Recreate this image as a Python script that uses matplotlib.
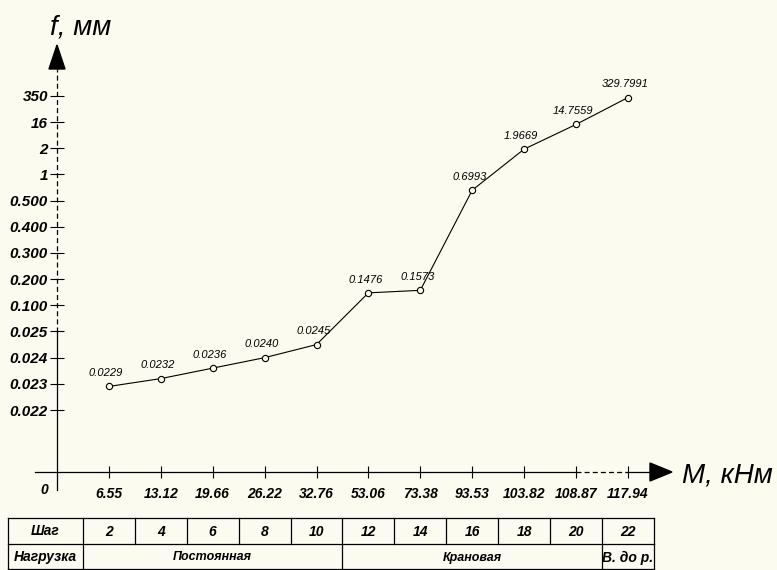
import matplotlib
matplotlib.use('Agg')
import matplotlib.pyplot as plt
import numpy as np

# ---------------------------------------------------------------
# Прогиб f от момента M по шагам нагружения
# ---------------------------------------------------------------
M_TICKS = [0, 6.55, 13.12, 19.66, 26.22, 32.76, 53.06, 73.38, 93.53, 103.82, 108.87, 117.94]
M_TICK_LABELS = ['6.55', '13.12', '19.66', '26.22', '32.76', '53.06',
                 '73.38', '93.53', '103.82', '108.87', '117.94']

F_TICKS = [0.022, 0.023, 0.024, 0.025, 0.100, 0.200, 0.300, 0.400, 0.500, 1, 2, 16, 350]
F_TICK_LABELS = ['0.022', '0.023', '0.024', '0.025', '0.100', '0.200', '0.300',
                 '0.400', '0.500', '1', '2', '16', '350']

M_VALUES = [6.55, 13.12, 19.66, 26.22, 32.76, 53.06, 73.38, 93.53, 103.82, 108.87, 117.94]
F_VALUES = [0.0229, 0.0232, 0.0236, 0.0240, 0.0245, 0.1476, 0.1573, 0.6993,
            1.9669, 14.7559, 329.7991]

STEPS = [2, 4, 6, 8, 10, 12, 14, 16, 18, 20, 22]
LOAD_NAMES = ['Постоянная', 'Крановая', 'В. до р.']
LOAD_SPANS = [5, 5, 1]

# ---------------------------------------------------------------
# разметка листа (пиксели)
# ---------------------------------------------------------------
W, H, DPI = 777, 570, 100
BG = '#FCFBF0'
ORIGIN_X = 57.0       # вертикальная ось
X_STEP = 51.9         # шаг между делениями по M
Y0_PX = 410.0         # уровень деления 0.022
Y_STEP = 26.17        # шаг между делениями по f
X_AXIS_PX = 472.0     # горизонтальная ось

plt.rcParams['font.family'] = ['Liberation Sans', 'DejaVu Sans']


def piecewise(xp, fp):
    """Кусочно-линейное отображение с продолжением по крайним отрезкам."""
    xp = np.asarray(xp, float)
    fp = np.asarray(fp, float)
    k_lo = (fp[1] - fp[0]) / (xp[1] - xp[0])
    k_hi = (fp[-1] - fp[-2]) / (xp[-1] - xp[-2])

    def f(v):
        v = np.asarray(v, float)
        out = np.interp(v, xp, fp)
        out = np.where(v < xp[0], fp[0] + (v - xp[0]) * k_lo, out)
        out = np.where(v > xp[-1], fp[-1] + (v - xp[-1]) * k_hi, out)
        return out
    return f


x_idx = np.arange(len(M_TICKS), dtype=float)
y_idx = np.arange(len(F_TICKS), dtype=float)
fx, fx_inv = piecewise(M_TICKS, x_idx), piecewise(x_idx, M_TICKS)
fy, fy_inv = piecewise(F_TICKS, y_idx), piecewise(y_idx, F_TICKS)


def px_x(i):
    return ORIGIN_X + X_STEP * i


fig = plt.figure(figsize=(W / DPI, H / DPI), dpi=DPI, facecolor=BG)

# --- основное поле графика -------------------------------------
ax = fig.add_axes([0, 0, 1, 1])
ax.set_facecolor('none')
ax.set_xscale('function', functions=(fx, fx_inv))
ax.set_yscale('function', functions=(fy, fy_inv))
ax.set_xlim(float(fx_inv(-ORIGIN_X / X_STEP)), float(fx_inv((W - ORIGIN_X) / X_STEP)))
ax.set_ylim(float(fy_inv((Y0_PX - H) / Y_STEP)), float(fy_inv(Y0_PX / Y_STEP)))

for s in ('top', 'right'):
    ax.spines[s].set_visible(False)
ax.spines['left'].set_position(('data', 0))
ax.spines['bottom'].set_position(('data', float(fy_inv((Y0_PX - X_AXIS_PX) / Y_STEP))))
ax.spines['left'].set_color('none')
ax.spines['bottom'].set_color('none')

ax.set_yticks(F_TICKS, labels=F_TICK_LABELS, fontsize=11,
              fontweight='bold', fontstyle='italic')
ax.set_xticks(M_TICKS[1:], labels=M_TICK_LABELS, fontsize=10,
              fontweight='bold', fontstyle='italic')
ax.tick_params(axis='y', direction='inout', length=10, width=0.8, pad=1.5, colors='black')
ax.tick_params(axis='x', direction='inout', length=9, width=0.8, pad=6, colors='black')
ax.minorticks_off()

ax.plot(M_VALUES, F_VALUES, color='black', lw=0.8, zorder=3)
ax.plot(M_VALUES, F_VALUES, ls='none', marker='o', ms=4.5, mfc=BG,
        mec='black', mew=0.8, zorder=4)
for m, f in zip(M_VALUES, F_VALUES):
    ax.annotate(f'{f:.4f}', (m, f), xytext=(-2, 6), textcoords='offset points',
                ha='center', va='bottom', fontsize=8, fontstyle='italic')

# --- оси, стрелки, таблица ------------------------------------
ov = fig.add_axes([0, 0, 1, 1])
ov.set_xlim(0, W)
ov.set_ylim(H, 0)
ov.axis('off')
ov.patch.set_alpha(0)

dash = (0, (4, 2.5))
# вертикальная ось
ov.plot([ORIGIN_X, ORIGIN_X], [490, 332], color='black', lw=0.9)
ov.plot([ORIGIN_X, ORIGIN_X], [332, 69], color='black', lw=0.9, ls=dash)
ov.fill([ORIGIN_X - 8, ORIGIN_X + 8, ORIGIN_X], [69, 69, 45], color='black')
# горизонтальная ось
x_dash0, x_dash1 = px_x(len(M_TICKS) - 2), px_x(len(M_TICKS) - 1)
ov.plot([35, x_dash0], [X_AXIS_PX] * 2, color='black', lw=0.9)
ov.plot([x_dash0, x_dash1], [X_AXIS_PX] * 2, color='black', lw=0.9, ls=dash)
ov.plot([x_dash1, 650], [X_AXIS_PX] * 2, color='black', lw=0.9)
ov.fill([650, 650, 672], [X_AXIS_PX - 9, X_AXIS_PX + 9, X_AXIS_PX], color='black')

ov.text(50, 35, 'f, мм', fontsize=20, fontstyle='italic', ha='left', va='baseline')
ov.text(682, 482, 'M, кНм', fontsize=20, fontstyle='italic', ha='left', va='baseline')
ov.text(44, 490, '0', fontsize=10, fontweight='bold', fontstyle='italic',
        ha='center', va='center')

# таблица шагов
t_top, t_mid, t_bot = 518, 544, 569
t_left = 8
t_right = px_x(len(STEPS) + 0.5)
lw_t = 0.9
for yy in (t_top, t_mid, t_bot):
    ov.plot([t_left, t_right], [yy, yy], color='black', lw=lw_t)
ov.plot([t_left, t_left], [t_top, t_bot], color='black', lw=lw_t)
ov.plot([px_x(0.5), px_x(0.5)], [t_top, t_bot], color='black', lw=lw_t)
for i in range(1, len(STEPS) + 1):
    ov.plot([px_x(i + 0.5)] * 2, [t_top, t_mid], color='black', lw=lw_t)

tkw = dict(fontsize=10, fontweight='bold', fontstyle='italic', ha='center', va='center')
ov.text((t_left + px_x(0.5)) / 2, (t_top + t_mid) / 2, 'Шаг', **tkw)
ov.text((t_left + px_x(0.5)) / 2, (t_mid + t_bot) / 2, 'Нагрузка', **tkw)
for i, s in enumerate(STEPS, start=1):
    ov.text(px_x(i), (t_top + t_mid) / 2 + 1, str(s), **tkw)

start = 1
for name, span in zip(LOAD_NAMES, LOAD_SPANS):
    end = start + span - 1
    ov.plot([px_x(end + 0.5)] * 2, [t_mid, t_bot], color='black', lw=lw_t)
    size = 10 if span == 1 else 9
    ov.text((px_x(start) + px_x(end)) / 2, (t_mid + t_bot) / 2 + 1, name,
            **{**tkw, 'fontsize': size})
    start = end + 1

fig.savefig('out.png', dpi=DPI, facecolor=BG)
